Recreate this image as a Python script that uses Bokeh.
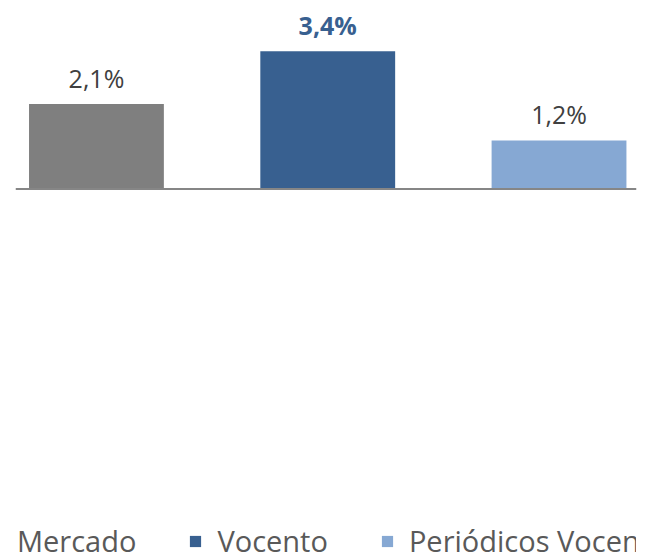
from bokeh.plotting import figure
from bokeh.models import ColumnDataSource, Range1d, Span, Legend, LegendItem
from bokeh.core.properties import value
from bokeh.embed import file_html
from bokeh.resources import INLINE

categories = ["Mercado", "Vocento", "Periódicos Vocento"]
values = [2.1, 3.4, 1.2]
labels = ["2,1%", "3,4%", "1,2%"]
colors = ["#7F7F7F", "#386090", "#86A8D3"]
label_colors = ["#404040", "#386090", "#404040"]
label_styles = ["normal", "bold", "normal"]

src = ColumnDataSource(dict(
    x=list(range(len(categories))),
    cat=categories,
    val=values,
    lab=labels,
    col=colors,
    lcol=label_colors,
    lsty=label_styles,
))

p = figure(width=646, height=555, output_backend="svg", toolbar_location=None,
           x_range=Range1d(-0.35, 2.335), y_range=Range1d(-9.049, 4.654),
           min_border_left=15, min_border_right=10, min_border_top=0, min_border_bottom=0,
           x_axis_location=None, y_axis_location=None)
p.outline_line_color = None
p.grid.visible = False
p.background_fill_color = "white"

bars = p.vbar(x="x", top="val", width=0.583, bottom=0, fill_color="col", line_color=None, source=src)

p.add_layout(Span(location=0, dimension="width", line_color="#868686", line_width=2))

p.text(x="x", y="val", text="lab", source=src, text_align="center", text_baseline="alphabetic",
       y_offset=-26, text_font=value("Open Sans"), text_font_size="25px",
       text_color="lcol", text_font_style="lsty")

items = [LegendItem(label=c, renderers=[bars], index=i) for i, c in enumerate(categories)]
legend = Legend(items=items, orientation="horizontal", location=(-27, -5),
                glyph_width=14, glyph_height=14, label_standoff=15, spacing=52,
                padding=0, margin=0, border_line_color=None, background_fill_alpha=0,
                label_text_font="Open Sans", label_text_font_size="29px",
                label_text_color="#595959")
p.add_layout(legend, "center")

open("out.html", "w").write(file_html(p, INLINE))
